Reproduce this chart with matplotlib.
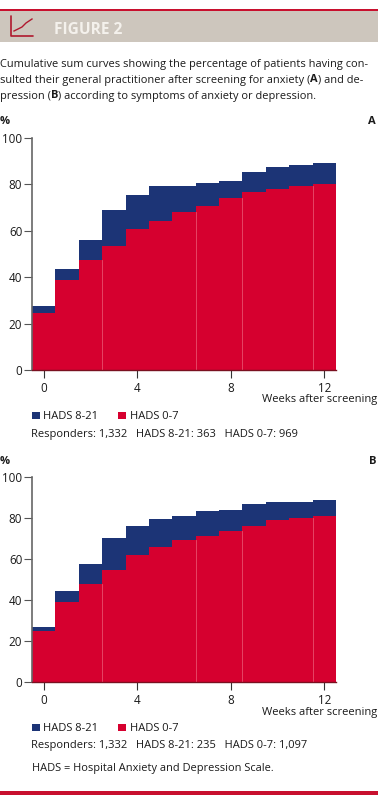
"""Recreates the two cumulative sum panels of figure 2"""

import matplotlib
matplotlib.use('Agg')
from matplotlib import pyplot as plt
from matplotlib.patches import Rectangle

WEEKS = [0, 1, 2, 3, 4, 5, 6, 7, 8, 9, 10, 11, 12]
WEEK_TICKS = [0, 4, 8, 12]
PCT_TICKS = [0, 20, 40, 60, 80, 100]
SERIES_LOW = 'HADS 0-7'
SERIES_HIGH = 'HADS 8-21'

# panel A
A_LOW = [24.7, 38.8, 47.4, 53.6, 60.6, 64.4, 68.2, 70.8, 74.0, 76.7, 78.0, 79.3, 80.3]
A_TOTAL = [27.6, 43.5, 56.0, 69.0, 75.3, 79.2, 79.2, 80.7, 81.5, 85.2, 87.4, 88.2, 89.4]
# panel B
B_LOW = [24.8, 38.9, 48.0, 54.9, 61.9, 65.8, 69.5, 71.5, 74.0, 76.2, 79.0, 80.3, 81.3]
B_TOTAL = [27.0, 44.5, 57.8, 70.4, 76.0, 79.5, 81.1, 83.7, 84.2, 87.1, 88.0, 88.0, 88.9]

SEAM_WEEKS = [2.5, 6.5, 8.5, 11.5]

CAPTION_1 = 'Cumulative sum curves showing the percentage of patients having con-'
CAPTION_2 = [('sulted their general practitioner after screening for anxiety (', 'normal'), ('A', 'bold'),
             (') and de-', 'normal')]
CAPTION_3 = [('pression (', 'normal'), ('B', 'bold'), (') according to symptoms of anxiety or depression.', 'normal')]
A_COUNTS = 'Responders: 1,332   HADS 8-21: 363   HADS 0-7: 969'
B_COUNTS = 'Responders: 1,332   HADS 8-21: 235   HADS 0-7: 1,097'
FOOTNOTE = 'HADS = Hospital Anxiety and Depression Scale.'

WIDTH = 378
HEIGHT = 800
RED = '#d6002f'
NAVY = '#1c3476'
BAND = '#cdc6bd'
TEXT = '#1a1a1a'
FONT_SIZE = 8.0
CAPTION_SIZE = 7.93

plt.rcParams['font.family'] = ['Open Sans', 'DejaVu Sans']


def draw_panel(fig, top, bottom, low, total):
    """Draws one stacked step panel, top and bottom are pixel rows of 100 and 0"""

    ax = fig.add_axes([32 / WIDTH, 1 - bottom / HEIGHT, (336 - 32) / WIDTH, (bottom - top) / HEIGHT])
    high = [t - l for t, l in zip(total, low)]
    low_bars = ax.bar(WEEKS, low, width=1.0, color=RED, linewidth=0, label=SERIES_LOW)
    high_bars = ax.bar(WEEKS, high, width=1.0, bottom=low, color=NAVY, linewidth=0, label=SERIES_HIGH)
    for week in SEAM_WEEKS:
        idx = int(week + 0.5)
        ax.plot([week, week], [0, min(low[idx - 1], low[idx])], color='#e8506c', linewidth=0.6)

    ax.set_xlim(-0.5, 12.5)
    ax.set_ylim(0, 100)
    ax.set_xticks(WEEK_TICKS)
    ax.set_yticks(PCT_TICKS)
    ax.tick_params(axis='both', labelsize=FONT_SIZE + 0.4, labelcolor=TEXT, length=5.5, width=0.8)
    ax.tick_params(axis='x', color='#333333', pad=3.5)
    ax.tick_params(axis='y', color='#555555', pad=1.5)
    ax.spines['top'].set_visible(False)
    ax.spines['right'].set_visible(False)
    ax.spines['left'].set_color('#666666')
    ax.spines['left'].set_linewidth(1.2)
    ax.spines['bottom'].set_color('#7a1020')
    ax.spines['bottom'].set_linewidth(1.0)

    ax.legend(
        handles=[high_bars, low_bars], loc='upper left', ncol=2, frameon=False,
        bbox_to_anchor=(31 / WIDTH - 0.022, 1 - (bottom + 32.5) / HEIGHT), bbox_transform=fig.transFigure,
        fontsize=FONT_SIZE, handlelength=0.72, handleheight=0.72, handletextpad=0.35,
        columnspacing=1.75, borderpad=0.3, labelcolor=TEXT,
    )


def draw_runs(fig, page, y, runs):
    """Writes mixed weight text on one line, each run starts where the last one ended"""

    x = 0
    renderer = fig.canvas.get_renderer()
    for text, weight in runs:
        # trailing spaces do not count in the extent, so measure with a stand-in
        page.text(x, y, text, color=TEXT, fontsize=CAPTION_SIZE, fontweight=weight, va='center', ha='left')
        probe = page.text(0, y, text.replace(' ', '\u00a0'), fontsize=CAPTION_SIZE, fontweight=weight)
        x += probe.get_window_extent(renderer).width
        probe.remove()


def main():
    """Main method"""

    fig = plt.figure(figsize=(WIDTH / 100, HEIGHT / 100), dpi=100, facecolor='white')

    # page furniture lives on a full figure axes in pixel coordinates
    page = fig.add_axes([0, 0, 1, 1])
    page.set_xlim(0, WIDTH)
    page.set_ylim(HEIGHT, 0)
    page.axis('off')
    page.add_patch(Rectangle((0, 10), WIDTH, 32, color=BAND, linewidth=0))
    page.add_patch(Rectangle((0, 8.5), WIDTH, 2, color='#c8102e', linewidth=0))
    page.add_patch(Rectangle((0, 791), WIDTH, 4, color='#c8102e', linewidth=0))

    # icon
    page.plot([11, 11, 33], [16, 36, 36], color='#b0182e', linewidth=1.2, solid_capstyle='round')
    page.plot([14, 18, 22, 26, 32], [31, 29, 27, 23, 19], color='#b0182e', linewidth=1.0)

    page.text(54, 29.5, 'FIGURE 2', color='#f4f1ec', fontsize=11.2, fontweight='bold', va='center', ha='left')

    page.text(0, 64.5, CAPTION_1, color=TEXT, fontsize=CAPTION_SIZE, va='center', ha='left')
    draw_runs(fig, page, 80, CAPTION_2)
    draw_runs(fig, page, 96, CAPTION_3)

    for label, y in [('A', 121), ('B', 462)]:
        page.text(0, y, '%', color=TEXT, fontsize=FONT_SIZE, fontweight='bold', va='center', ha='left')
        page.text(376, y, label, color=TEXT, fontsize=FONT_SIZE, fontweight='bold', va='center', ha='right')

    draw_panel(fig, 138, 370, A_LOW, A_TOTAL)
    draw_panel(fig, 477.3, 682, B_LOW, B_TOTAL)

    page.text(377, 399.5, 'Weeks after screening', color=TEXT, fontsize=FONT_SIZE, va='center', ha='right')
    page.text(377, 712, 'Weeks after screening', color=TEXT, fontsize=FONT_SIZE, va='center', ha='right')
    page.text(31, 434, A_COUNTS, color=TEXT, fontsize=FONT_SIZE, va='center', ha='left')
    page.text(31, 745.5, B_COUNTS, color=TEXT, fontsize=FONT_SIZE, va='center', ha='left')
    page.text(32, 769, FOOTNOTE, color=TEXT, fontsize=CAPTION_SIZE, va='center', ha='left')

    fig.savefig('out.png', dpi=100)


if __name__ == '__main__':
    main()
